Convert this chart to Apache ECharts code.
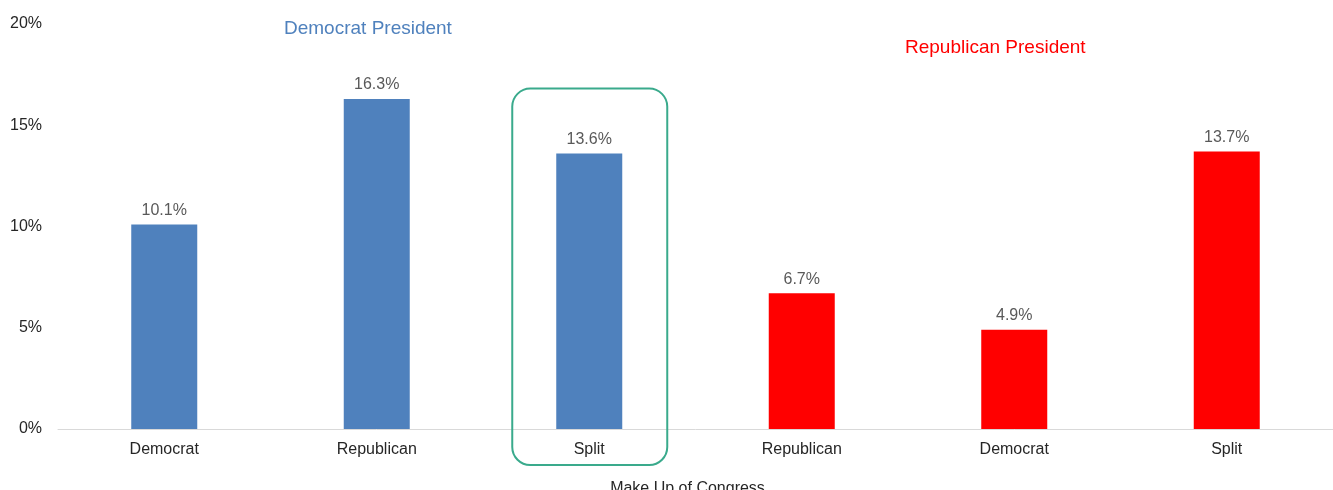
<!DOCTYPE html>
<html><head><meta charset="utf-8">
<script src="https://cdn.jsdelivr.net/npm/echarts@6/dist/echarts.min.js"></script>
<style>html,body{margin:0;padding:0;background:#fff}#c{width:1333px;height:490px}</style>
</head><body><div id="c"></div>
<script>
const categories = ['Democrat','Republican','Split','Republican','Democrat','Split'];
const values = [10.1, 16.3, 13.6, 6.7, 4.9, 13.7];
const barColors = ['#4f81bd','#4f81bd','#4f81bd','#ff0000','#ff0000','#ff0000'];
const yTicks = [0, 5, 10, 15, 20];
const groupTitles = ['Democrat President', 'Republican President'];
const axisName = 'Make Up of Congress';

const chart = echarts.init(document.getElementById('c'));
const font = 'Liberation Sans, Arial, sans-serif';
chart.setOption({
  animation: false,
  textStyle: {fontFamily: font},
  grid: {left: 58, right: 0, top: 24, bottom: 61, containLabel: false, outerBoundsMode: 'none'},
  xAxis: {
    type: 'category', data: categories,
    axisLine: {lineStyle: {color: '#d9d9d9'}},
    axisTick: {show: false},
    axisLabel: {color: '#262626', fontSize: 16, margin: 13, fontFamily: font},
    name: axisName, nameLocation: 'middle', nameGap: 52,
    nameTextStyle: {color: '#262626', fontSize: 16, fontFamily: font, padding: [0, 16, 0, 0]}
  },
  yAxis: {
    type: 'value', min: 0, max: 20, interval: 5,
    splitLine: {show: false},
    axisLabel: {color: '#262626', fontSize: 16, margin: 16, fontFamily: font,
      formatter: v => yTicks.includes(v) ? v + '%' : ''}
  },
  title: [
    {text: groupTitles[0], left: 279, top: 14, textStyle: {color: '#4f81bd', fontSize: 19, fontWeight: 'normal', fontFamily: font}},
    {text: groupTitles[1], left: 900, top: 33, textStyle: {color: '#ff0000', fontSize: 19, fontWeight: 'normal', fontFamily: font}}
  ],
  series: [{
    type: 'bar', barWidth: 66,
    data: values.map((v, i) => ({value: v, itemStyle: {color: barColors[i]}})),
    label: {show: true, position: 'top', distance: 6, color: '#595959', fontSize: 16, fontFamily: font,
      formatter: p => p.value.toFixed(1) + '%'}
  }]
});

// highlight box around the "Split" bar of the Democrat group
const c = chart.convertToPixel({xAxisIndex: 0, yAxisIndex: 0}, [2, 0]);
const topPx = chart.convertToPixel({yAxisIndex: 0}, values[2]);
chart.setOption({
  graphic: [{
    type: 'rect', z: 10,
    shape: {x: c[0] - 77, y: topPx - 65, width: 155, height: c[1] + 36 - (topPx - 65), r: 18},
    style: {fill: 'none', stroke: '#3aaa8c', lineWidth: 2}
  }]
});
</script></body></html>
